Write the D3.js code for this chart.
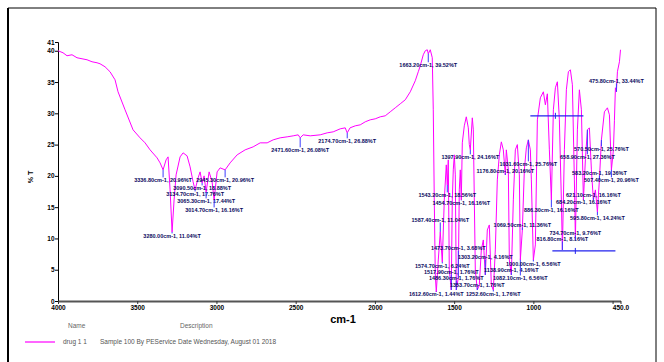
<!DOCTYPE html>
<html>
<head>
<meta charset="utf-8">
<script src="https://cdn.jsdelivr.net/npm/d3@7"></script>
<style>
  html, body { margin: 0; padding: 0; background: #fff; }
  svg { display: block; font-family: "Liberation Sans", Arial, sans-serif; }
</style>
</head>
<body>
<svg id="chart" width="664" height="362"></svg>
<script>
// IR spectrum: wavenumber (cm-1) against transmittance (%T)
const wavenumbers = [
  4000.0, 3968.4, 3943.2, 3911.6, 3880.0, 3848.4, 3816.8, 3785.3, 3753.7, 3734.7,
  3703.2, 3671.6, 3640.0, 3621.1, 3576.8, 3526.3, 3482.1, 3450.5, 3418.9, 3374.7,
  3355.8, 3336.8, 3317.9, 3305.3, 3292.6, 3280.0, 3267.4, 3254.7, 3229.5, 3210.5,
  3185.3, 3166.3, 3147.4, 3134.7, 3115.8, 3103.2, 3090.5, 3077.9, 3065.3, 3046.3,
  3027.4, 3014.7, 2995.8, 2976.8, 2945.3, 2913.7, 2869.5, 2819.0, 2768.4, 2724.2,
  2680.0, 2642.1, 2597.9, 2553.7, 2515.8, 2484.2, 2471.6, 2452.6, 2408.4, 2345.3,
  2301.1, 2263.2, 2218.9, 2187.4, 2174.7, 2156.8, 2124.2, 2092.6, 2061.1, 2029.5,
  1997.9, 1966.3, 1934.7, 1903.2, 1871.6, 1840.0, 1808.4, 1776.8, 1745.3, 1726.3,
  1713.7, 1694.7, 1682.1, 1669.5, 1663.2, 1650.5, 1637.9, 1631.6, 1625.3, 1618.9,
  1612.6, 1600.0, 1587.4, 1574.7, 1562.1, 1549.5, 1543.2, 1536.8, 1530.5, 1517.9,
  1511.6, 1505.3, 1498.9, 1492.6, 1486.3, 1473.7, 1467.4, 1461.1, 1454.7, 1448.4,
  1435.8, 1423.2, 1410.5, 1404.2, 1397.9, 1385.3, 1378.9, 1366.3, 1353.7, 1341.1,
  1328.4, 1315.8, 1303.2, 1290.5, 1277.9, 1265.3, 1252.6, 1240.0, 1227.4, 1214.7,
  1202.1, 1189.5, 1176.8, 1170.5, 1157.9, 1151.6, 1138.9, 1126.3, 1113.7, 1101.1,
  1088.4, 1082.1, 1069.5, 1056.8, 1044.2, 1031.6, 1018.9, 1012.6, 1000.0, 987.4,
  974.7, 955.8, 936.8, 924.2, 911.6, 898.9, 886.3, 873.7, 861.1, 848.4,
  835.8, 823.2, 816.8, 804.2, 791.6, 778.9, 766.3, 753.7, 741.1, 734.7,
  722.1, 709.5, 696.8, 684.2, 671.6, 658.9, 646.3, 633.7, 621.1, 608.4,
  595.8, 583.2, 570.5, 551.6, 532.6, 520.0, 507.4, 494.7, 488.4, 482.1,
  475.8, 469.5, 456.8, 450.0
];
const transmittance = [
  40.00, 39.68, 39.20, 39.36, 38.88, 38.72, 38.56, 38.24, 38.08, 37.92,
  37.44, 36.64, 35.36, 33.44, 30.56, 27.36, 26.08, 25.28, 24.16, 22.88,
  22.08, 20.96, 22.56, 23.04, 17.76, 11.04, 16.16, 20.16, 23.04, 23.68,
  23.20, 21.44, 19.04, 17.76, 19.68, 20.64, 18.88, 20.00, 17.44, 20.64,
  19.04, 16.16, 20.64, 21.28, 20.96, 22.08, 23.36, 24.16, 24.64, 25.28,
  25.28, 25.76, 26.08, 26.24, 26.40, 26.56, 26.08, 26.56, 26.40, 26.56,
  26.88, 27.04, 27.52, 27.68, 26.88, 27.68, 28.00, 28.16, 28.64, 28.96,
  29.12, 29.44, 29.60, 30.24, 30.88, 31.52, 32.16, 33.44, 35.20, 36.64,
  37.60, 39.36, 40.00, 40.16, 39.52, 40.16, 38.88, 30.56, 16.16, 4.16,
  1.44, 6.56, 11.04, 6.24, 16.16, 21.76, 18.56, 22.56, 4.96, 1.76,
  16.16, 20.96, 23.36, 20.16, 1.76, 3.68, 17.76, 20.96, 16.16, 25.28,
  28.00, 29.44, 27.68, 25.00, 24.16, 29.28, 27.36, 4.96, 1.76, 2.56,
  8.16, 9.76, 4.16, 11.36, 12.16, 2.56, 1.76, 8.16, 19.36, 23.36,
  25.44, 24.16, 20.16, 24.16, 20.96, 6.56, 4.16, 16.16, 24.16, 25.00,
  20.16, 6.56, 11.36, 20.96, 24.48, 25.76, 24.16, 19.36, 6.56, 8.96,
  28.96, 32.48, 33.44, 31.36, 33.12, 24.16, 16.16, 30.56, 34.08, 35.04,
  28.96, 16.16, 8.16, 24.16, 33.76, 36.64, 36.96, 34.56, 19.36, 9.76,
  27.36, 33.76, 30.56, 16.16, 22.56, 27.36, 27.68, 20.96, 16.16, 17.76,
  14.24, 19.36, 25.76, 30.24, 30.88, 29.76, 20.96, 24.16, 28.80, 34.08,
  33.44, 36.64, 38.24, 40.16
];

// Labelled bands (wavenumbers on the curve)
const peakWavenumbers = [
  3336.8, 3280.0, 3134.7, 3090.5, 3065.3, 3014.7, 2945.3, 2471.6, 2174.7, 1663.2,
  1612.6, 1587.4, 1574.7, 1543.2, 1517.9, 1486.3, 1473.7, 1454.7, 1397.9, 1353.7,
  1303.2, 1252.6, 1176.8, 1138.9, 1082.1, 1069.5, 1031.6, 1000.0, 886.3, 816.8,
  734.7, 684.2, 658.9, 621.1, 595.8, 583.2, 570.5, 507.4, 475.8
];
// Vertical offset (px) of each annotation from its point on the curve
const labelOffsets = [
  12, 6, 6, 7, 11, 12, 12, 14, 10, 13,
  4, -10, 6, 12, -16, -10, -28, 5, 9, -3,
  -16, 6, -2, -3, 20, -3, 26, 6, 12, -9,
  -5, 4, 29, -3, 8, -5, 11, 12, -9
];

// Integration range markers
const rangeStart = [1019, 880];
const rangeEnd = [684, 482];
const rangeLevel = [29.6, 8.0];
const rangeMark = [861, 735];

const yTicks = [0, 5, 10, 15, 20, 25, 30, 35, 40, 41.4];
const xTicks = [4000, 3500, 3000, 2500, 2000, 1500, 1000, 500, 450];

const svg = d3.select("#chart");

// page frame
svg.append("line").attr("x1", 8).attr("x2", 8).attr("y1", 8).attr("y2", 362)
  .attr("stroke", "#000").attr("stroke-width", 2);
svg.append("line").attr("x1", 8).attr("x2", 656).attr("y1", 8).attr("y2", 8)
  .attr("stroke", "#000").attr("stroke-width", 1);
svg.append("line").attr("x1", 656).attr("x2", 656).attr("y1", 8).attr("y2", 362)
  .attr("stroke", "#000").attr("stroke-width", 1);

const x = d3.scaleLinear().domain([4000, 450]).range([58, 620.5]);
const y = d3.scaleLinear().domain([0, 41.4]).range([301, 42]);

// y axis
const yAxis = svg.append("g").attr("transform", "translate(58,0)")
  .call(d3.axisLeft(y).tickValues(yTicks).tickSize(3)
    .tickFormat(d => d === 41.4 ? "41" : d3.format("d")(d)));
yAxis.select(".domain").attr("stroke", "#000").attr("stroke-width", 1);
yAxis.selectAll(".tick line").attr("stroke", "#000");
yAxis.selectAll(".tick text").attr("font-size", 6.5).attr("font-weight", "bold")
  .attr("fill", "#000").attr("x", -3.5);

// x axis (the 500 tick shares its label space with the 450.0 end label)
const xAxis = svg.append("g").attr("transform", "translate(0,301)")
  .call(d3.axisBottom(x).tickValues(xTicks).tickSize(3).tickSizeOuter(0)
    .tickFormat(d => d === 450 ? "450.0" : d === 500 ? "" : d3.format("d")(d)));
xAxis.select(".domain").attr("stroke", "#555").attr("stroke-width", 2);
xAxis.selectAll(".tick line").attr("stroke", "#333");
xAxis.selectAll(".tick text").attr("font-size", 6.5).attr("font-weight", "bold")
  .attr("fill", "#000").attr("y", 4.5);

// axis titles
svg.append("text").attr("x", 343).attr("y", 323).attr("text-anchor", "middle")
  .attr("font-size", 11).attr("font-weight", "bold").attr("fill", "#000").text("cm-1");
svg.append("text").attr("transform", "translate(33,177) rotate(-90)")
  .attr("text-anchor", "middle").attr("font-size", 7).attr("font-weight", "bold")
  .attr("fill", "#000").text("% T");

// spectrum
const pts = wavenumbers.map((w, i) => [w, transmittance[i]]);
svg.append("path").datum(pts)
  .attr("fill", "none").attr("stroke", "#ff00ff").attr("stroke-width", 1)
  .attr("d", d3.line().x(d => x(d[0])).y(d => y(d[1])));

// range markers
const rangeG = svg.append("g");
rangeStart.forEach((s, i) => {
  rangeG.append("line").attr("x1", x(s)).attr("x2", x(rangeEnd[i]))
    .attr("y1", y(rangeLevel[i])).attr("y2", y(rangeLevel[i]))
    .attr("stroke", "#2222ee").attr("stroke-width", 1.3);
  rangeG.append("line").attr("x1", x(rangeMark[i])).attr("x2", x(rangeMark[i]))
    .attr("y1", y(rangeLevel[i]) - 3).attr("y2", y(rangeLevel[i]) + 3)
    .attr("stroke", "#2222ee").attr("stroke-width", 1);
});

// peak annotations
const fmt = d3.format(".2f");
const annG = svg.append("g");
peakWavenumbers.forEach((w, i) => {
  const k = wavenumbers.indexOf(w);
  const t = transmittance[k];
  const px = x(w), py = y(t), dy = labelOffsets[i];
  const ly = py + dy;
  const lineEnd = dy > 0 ? ly - 4.5 : ly + 0.5;
  annG.append("line").attr("x1", px).attr("x2", px).attr("y1", py).attr("y2", lineEnd)
    .attr("stroke", "#3b3bff").attr("stroke-width", 1);
  annG.append("text").attr("x", px).attr("y", ly).attr("text-anchor", "middle")
    .attr("font-size", 5.5).attr("font-weight", "bold").attr("fill", "#0a0a5e")
    .text(`${fmt(w)}cm-1, ${fmt(t)}%T`);
});

// legend
svg.append("text").attr("x", 68).attr("y", 328).attr("font-size", 6.5)
  .attr("fill", "#666").text("Name");
svg.append("text").attr("x", 180).attr("y", 328).attr("font-size", 6.5)
  .attr("fill", "#666").text("Description");
svg.append("line").attr("x1", 25).attr("x2", 55).attr("y1", 342).attr("y2", 342)
  .attr("stroke", "#ff00ff").attr("stroke-width", 1.2);
svg.append("text").attr("x", 63).attr("y", 343.5).attr("font-size", 6.5)
  .attr("fill", "#555").text("drug  1 1");
svg.append("text").attr("x", 100).attr("y", 343.5).attr("font-size", 6.5)
  .attr("fill", "#555").text("Sample 100 By PEService Date Wednesday, August 01 2018");
</script>
</body>
</html>
